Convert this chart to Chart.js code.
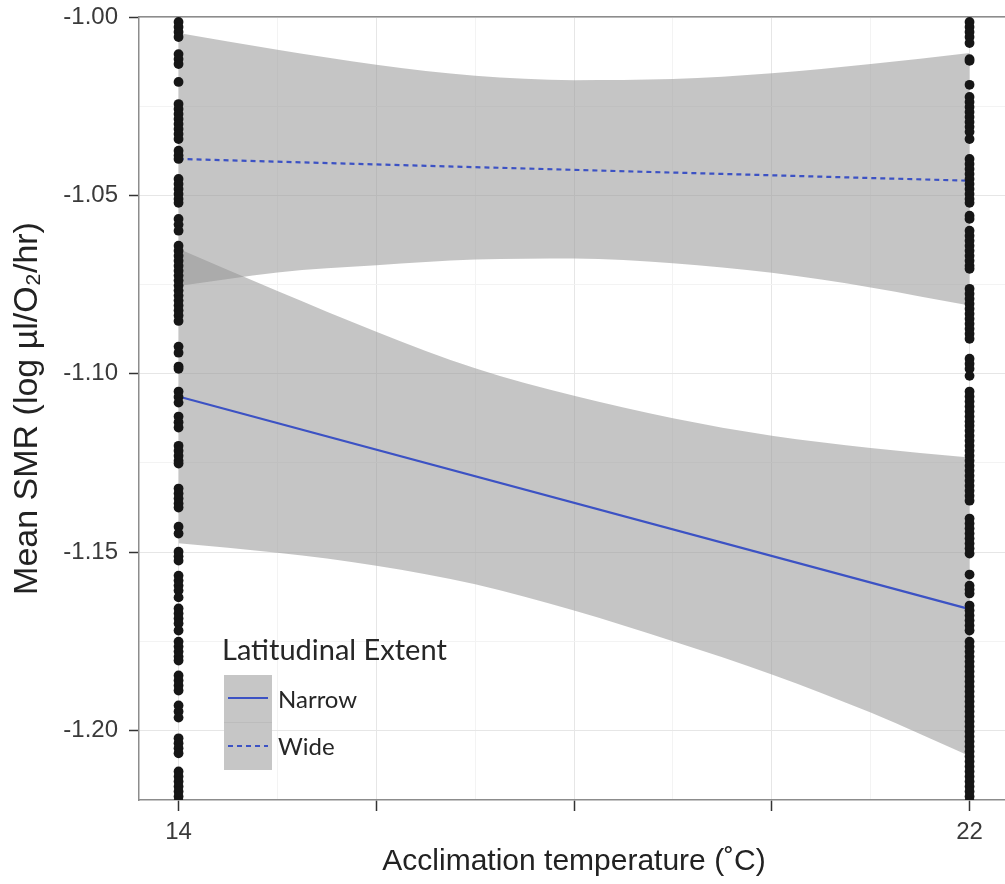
<!DOCTYPE html>
<html>
<head>
<meta charset="utf-8">
<script src="https://cdn.jsdelivr.net/npm/chart.js@4.4.1/dist/chart.umd.min.js"></script>
<style>
  html, body { margin: 0; padding: 0; background: #ffffff; overflow: hidden; }
  #wrap { position: relative; width: 1005px; height: 884px; overflow: hidden; }
  #c { position: absolute; left: 0; top: 0; }
  #legend { position: absolute; left: 224px; top: 634px; font-family: Lato, "Open Sans", sans-serif; color: #262626; }
  #legend .ltitle { font-size: 29px; line-height: 29px; white-space: nowrap; margin-left: -2px; }
  #legend .rows { margin-top: 12px; }
  #legend .row { display: flex; align-items: center; height: 47.5px; }
  #legend .key { width: 48px; height: 47.5px; background: #c6c6c6; display: flex; align-items: center; justify-content: center; box-sizing: border-box; }
  #legend .key.sep { border-bottom: 1px solid #bcbcbc; }
  #legend .lab { font-size: 24px; margin-left: 6px; line-height: 24px; white-space: nowrap; }
</style>
</head>
<body>
<div id="wrap">
  <canvas id="c" width="1014" height="884" style="width:1014px;height:884px"></canvas>
  <div id="legend"></div>
</div>
<script>
// ---------------- data ----------------
const temps = [14, 22];
const ribbonTemps = [14, 15, 16, 17, 18, 19, 20, 21, 22];
const seriesNames = ['Narrow', 'Wide'];
const legendTitle = 'Latitudinal Extent';

const narrowFit = [-1.1064, -1.1660];
const wideFit = [-1.0398, -1.0459];

const narrowUpper = [-1.0650, -1.0768, -1.0882, -1.0985, -1.1062, -1.1125, -1.1174, -1.1208, -1.1235];
const narrowLower = [-1.1475, -1.1502, -1.1538, -1.1590, -1.1664, -1.1750, -1.1843, -1.1950, -1.2072];
const wideUpper = [-1.0045, -1.0092, -1.0134, -1.0165, -1.0177, -1.0174, -1.0158, -1.0132, -1.0101];
const wideLower = [-1.0754, -1.0716, -1.0696, -1.0680, -1.0677, -1.0690, -1.0717, -1.0758, -1.0809];

const obsAt14 = [
  -1.0014, -1.0028, -1.0042, -1.0056,
  -1.0104, -1.0118, -1.0132,
  -1.0182,
  -1.0244, -1.0258, -1.0272, -1.0286, -1.0300, -1.0314, -1.0328, -1.0342,
  -1.0375, -1.0388, -1.0398,
  -1.0454, -1.0468, -1.0482, -1.0496, -1.0510, -1.0521,
  -1.0566, -1.0582, -1.0599,
  -1.0641, -1.0655, -1.0669, -1.0683, -1.0697, -1.0711, -1.0725, -1.0739, -1.0753, -1.0767, -1.0781, -1.0795, -1.0809, -1.0823, -1.0837, -1.0852,
  -1.0924, -1.0941, -1.0980, -1.0986,
  -1.1050, -1.1065, -1.1081,
  -1.1120, -1.1136, -1.1151,
  -1.1202, -1.1216, -1.1230, -1.1244, -1.1252,
  -1.1322, -1.1336, -1.1350, -1.1364, -1.1375,
  -1.1429, -1.1448,
  -1.1499, -1.1512, -1.1524,
  -1.1566, -1.1580, -1.1594, -1.1608, -1.1627,
  -1.1658, -1.1672, -1.1686, -1.1700, -1.1720,
  -1.1751, -1.1765, -1.1779, -1.1793, -1.1804,
  -1.1846, -1.1860, -1.1874, -1.1888,
  -1.1930, -1.1947, -1.1964,
  -1.2022, -1.2036, -1.2050, -1.2064,
  -1.2115, -1.2129, -1.2143, -1.2157, -1.2171, -1.2185, -1.2199, -1.2213
];
const obsAt22 = [
  -1.0014, -1.0028, -1.0042, -1.0056, -1.0073,
  -1.0118, -1.0123,
  -1.0190,
  -1.0224, -1.0238, -1.0252, -1.0266, -1.0280, -1.0294, -1.0308, -1.0322, -1.0342,
  -1.0398, -1.0412, -1.0426, -1.0440, -1.0454, -1.0468, -1.0482, -1.0496, -1.0510, -1.0521,
  -1.0557, -1.0566,
  -1.0599, -1.0613, -1.0627, -1.0641, -1.0655, -1.0669, -1.0683, -1.0697, -1.0706,
  -1.0762, -1.0776, -1.0790, -1.0804, -1.0818, -1.0832, -1.0846, -1.0860, -1.0874, -1.0888, -1.0902,
  -1.0958, -1.0972, -1.0986, -1.1006,
  -1.1050, -1.1064, -1.1078, -1.1092, -1.1106, -1.1120, -1.1134,
  -1.1146, -1.1160, -1.1174, -1.1188, -1.1202, -1.1216, -1.1230, -1.1244, -1.1258, -1.1272, -1.1286, -1.1300, -1.1314, -1.1328, -1.1342, -1.1356,
  -1.1406, -1.1420, -1.1434, -1.1448, -1.1462, -1.1476, -1.1490, -1.1504,
  -1.1563,
  -1.1594, -1.1605, -1.1616,
  -1.1650, -1.1664, -1.1678, -1.1692, -1.1706, -1.1720,
  -1.1751, -1.1765, -1.1779, -1.1793, -1.1807, -1.1821, -1.1835, -1.1849, -1.1863, -1.1877, -1.1891, -1.1905,
  -1.1919, -1.1933, -1.1947, -1.1961, -1.1975, -1.1989, -1.2003, -1.2017, -1.2031, -1.2045, -1.2059, -1.2073,
  -1.2087, -1.2101, -1.2115, -1.2129, -1.2143, -1.2157, -1.2171, -1.2185, -1.2199, -1.2213
];

const xTickValues = [14, 15, 16, 17, 18, 19, 20, 21, 22];
const xMajorTicks = [14, 16, 18, 20, 22];
const xTickLabels = ['14', '', '', '', '', '', '', '', '22'];
const yTickValues = [-1.2, -1.175, -1.15, -1.125, -1.1, -1.075, -1.05, -1.025, -1.0];
const yTickLabels = ['-1.20', '', '-1.15', '', '-1.10', '', '-1.05', '', '-1.00'];

// ---------------- styling ----------------
const BLUE = '#3c52c4';
const RIBBON = 'rgba(150,150,150,0.55)';
const AXIS = '#8c8c8c';
const GRID_MAJOR = '#e6e6e6';
const GRID_MINOR = '#f3f3f3';
const TICK_FONT = { family: '"Liberation Sans", Arial, sans-serif', size: 24 };
const Y_TICK_FONT = { family: '"Liberation Sans", Arial, sans-serif', size: 24, lineHeight: 0.5 };
const TITLE_FONT_X = { family: '"Liberation Sans", Arial, sans-serif', size: 30 };
const TITLE_FONT_Y = { family: '"Liberation Sans", Arial, sans-serif', size: 34 };

const near = (a, b) => Math.abs(a - b) < 1e-6;
const xy = (xs, ys) => xs.map((x, i) => ({ x: x, y: ys[i] }));
const column = (x, ys) => ys.map(y => ({ x: x, y: y }));

const isXMajor = v => xMajorTicks.some(m => near(m, v));
const isYMajor = v => { const i = yTickValues.findIndex(t => near(t, v)); return i >= 0 && yTickLabels[i] !== ''; };

const datasets = [
  { label: 'wideUpper', data: xy(ribbonTemps, wideUpper), fill: '+1', backgroundColor: RIBBON,
    borderWidth: 0, pointRadius: 0, cubicInterpolationMode: 'monotone', order: 3 },
  { label: 'wideLower', data: xy(ribbonTemps, wideLower), fill: false,
    borderWidth: 0, pointRadius: 0, cubicInterpolationMode: 'monotone', order: 3 },
  { label: 'narrowUpper', data: xy(ribbonTemps, narrowUpper), fill: '+1', backgroundColor: RIBBON,
    borderWidth: 0, pointRadius: 0, cubicInterpolationMode: 'monotone', order: 3 },
  { label: 'narrowLower', data: xy(ribbonTemps, narrowLower), fill: false,
    borderWidth: 0, pointRadius: 0, cubicInterpolationMode: 'monotone', order: 3 },
  { label: seriesNames[0], data: xy(temps, narrowFit), borderColor: BLUE, borderWidth: 2.2,
    pointRadius: 0, fill: false, order: 2 },
  { label: seriesNames[1], data: xy(temps, wideFit), borderColor: BLUE, borderWidth: 2.2,
    borderDash: [5, 4], pointRadius: 0, fill: false, order: 2 },
  { label: 'obs14', data: column(temps[0], obsAt14), showLine: false, pointRadius: 4.9,
    pointBackgroundColor: '#161616', pointBorderWidth: 0, clip: 0, order: 1 },
  { label: 'obs22', data: column(temps[1], obsAt22), showLine: false, pointRadius: 4.9,
    pointBackgroundColor: '#161616', pointBorderWidth: 0, clip: 0, order: 1 }
];

new Chart(document.getElementById('c'), {
  type: 'line',
  data: { datasets: datasets },
  options: {
    responsive: false,
    animation: false,
    events: [],
    layout: { padding: { top: 16, right: 2, left: 0, bottom: 0 } },
    plugins: { legend: { display: false }, tooltip: { enabled: false } },
    scales: {
      x: {
        type: 'linear', position: 'bottom', min: 13.6, max: 22.4,
        afterBuildTicks: s => { s.ticks = xTickValues.map(v => ({ value: v })); },
        afterFit: s => { s.height = 84; },
        ticks: {
          autoSkip: false, maxRotation: 0, font: TICK_FONT, color: '#3a3a3a', padding: 7,
          callback: (v, i) => xTickLabels[i]
        },
        grid: {
          color: c => (c.tick && isXMajor(c.tick.value)) ? GRID_MAJOR : GRID_MINOR,
          tickColor: c => (c.tick && isXMajor(c.tick.value)) ? '#333333' : 'rgba(0,0,0,0)',
          tickLength: 11, lineWidth: 1, tickWidth: 1.5
        },
        border: { color: AXIS, width: 1.5 },
        title: { display: true, text: 'Acclimation temperature (˚C)', font: TITLE_FONT_X, color: '#222222',
          padding: { top: 0, bottom: 4 } }
      },
      xTop: {
        type: 'linear', position: 'top', min: 13.6, max: 22.4,
        afterBuildTicks: s => { s.ticks = []; },
        afterFit: s => { s.height = 0; },
        ticks: { display: false },
        grid: { display: false, drawTicks: false },
        border: { display: true, color: AXIS, width: 1.5 }
      },
      y: {
        type: 'linear', position: 'left', min: -1.2195, max: -1.0,
        afterBuildTicks: s => { s.ticks = yTickValues.map(v => ({ value: v })); },
        afterFit: s => { s.width = 139; },
        ticks: {
          autoSkip: false, font: Y_TICK_FONT, color: '#3a3a3a', padding: 11,
          callback: (v, i) => yTickLabels[i]
        },
        grid: {
          color: c => (c.tick && isYMajor(c.tick.value)) ? GRID_MAJOR : GRID_MINOR,
          tickColor: c => (c.tick && isYMajor(c.tick.value)) ? '#333333' : 'rgba(0,0,0,0)',
          tickLength: 10, lineWidth: 1, tickWidth: 1.5
        },
        border: { color: AXIS, width: 1.5 },
        title: { display: true, text: 'Mean SMR (log µl/O₂/hr)', font: TITLE_FONT_Y, color: '#222222',
          padding: { top: 7, bottom: 0 } }
      }
    }
  }
});

// ---------------- legend (HTML, inside the plot area) ----------------
const legendDash = ['none', '5 4'];
const lg = document.getElementById('legend');
const t = document.createElement('div');
t.className = 'ltitle';
t.textContent = legendTitle;
lg.appendChild(t);
const rows = document.createElement('div');
rows.className = 'rows';
seriesNames.forEach((name, i) => {
  const row = document.createElement('div');
  row.className = 'row';
  const key = document.createElement('div');
  key.className = 'key' + (i < seriesNames.length - 1 ? ' sep' : '');
  key.innerHTML = '<svg width="40" height="6"><line x1="0" y1="3" x2="40" y2="3" stroke="' + BLUE +
    '" stroke-width="2.2"' + (legendDash[i] !== 'none' ? ' stroke-dasharray="' + legendDash[i] + '"' : '') + '/></svg>';
  const lab = document.createElement('div');
  lab.className = 'lab';
  lab.textContent = name;
  row.appendChild(key);
  row.appendChild(lab);
  rows.appendChild(row);
});
lg.appendChild(rows);
</script>
</body>
</html>
